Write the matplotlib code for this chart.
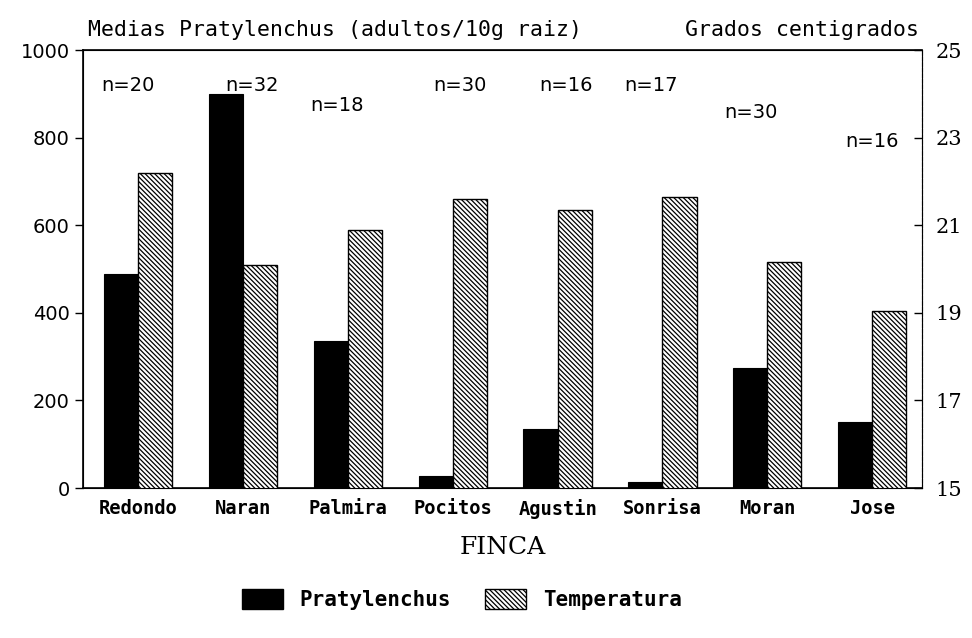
import matplotlib
matplotlib.use("Agg")
import matplotlib.pyplot as plt
from matplotlib.patches import Patch
import numpy as np

fincas = ["Redondo", "Naran", "Palmira", "Pocitos", "Agustin", "Sonrisa", "Moran", "Jose"]
pratylenchus = [489, 900, 336, 27, 135, 13, 274, 151]
temperatura = [22.2, 20.1, 20.9, 21.6, 21.35, 21.65, 20.15, 19.05]
n_labels = ["n=20", "n=32", "n=18", "n=30", "n=16", "n=17", "n=30", "n=16"]
n_x = [-0.1, 1.09, 1.90, 3.07, 4.08, 4.89, 5.84, 7.0]
n_y = [920, 920, 874, 920, 920, 920, 858, 790]
left_ticks = [0, 200, 400, 600, 800, 1000]
right_ticks = [15, 17, 19, 21, 23, 25]

plt.rcParams['hatch.linewidth'] = 0.9
fig = plt.figure(figsize=(9.72, 6.38), dpi=100)
ax = fig.add_axes([0.0854, 0.2351, 0.8632, 0.6865])
ax2 = ax.twinx()

HATCH = "\\\\\\\\\\\\\\"
x = np.arange(len(fincas))
w = 0.325
ax.bar(x - w / 2, pratylenchus, width=w, color="black", edgecolor="black", linewidth=0.8)
ax2.bar(x + w / 2, temperatura, width=w, bottom=0, color="white", edgecolor="black",
        hatch=HATCH, linewidth=1.0)

ax.set_xlim(-0.525, len(fincas) - 0.525)
ax.set_ylim(0, 1000)
ax2.set_ylim(15, 25)

ax.set_yticks(left_ticks)
ax.set_yticklabels([str(v) for v in left_ticks], fontsize=14, family="DejaVu Sans")
ax2.set_yticks(right_ticks)
ax2.set_yticklabels([str(v) for v in right_ticks], fontsize=15, family="DejaVu Serif")
ax.tick_params(axis="y", direction="out", length=6, width=1)
ax2.tick_params(axis="y", direction="in", length=6, width=1, pad=10)
ax.set_xticks(x)
ax.set_xticklabels(fincas, fontsize=13.5, family="DejaVu Sans Mono", fontweight="bold")
ax.tick_params(axis="x", length=0, pad=8)

for lbl, xx, yy in zip(n_labels, n_x, n_y):
    ax.text(xx, yy, lbl, fontsize=14, family="DejaVu Sans", ha="center", va="center")

ax2.spines["right"].set_linestyle((0, (3, 2)))
ax2.spines["right"].set_linewidth(0.8)
for s in ["left", "top", "bottom"]:
    ax.spines[s].set_linewidth(1.2)

fig.text(0.091, 0.953, "Medias Pratylenchus (adultos/10g raiz)", fontsize=15.5,
         family="DejaVu Sans Mono", ha="left", va="center")
fig.text(0.945, 0.953, "Grados centigrados", fontsize=15.5,
         family="DejaVu Sans Mono", ha="right", va="center")
ax.set_xlabel("FINCA", fontsize=18, family="DejaVu Serif", labelpad=12)

handles = [Patch(facecolor="black", edgecolor="black", label="Pratylenchus"),
           Patch(facecolor="white", edgecolor="black", hatch=HATCH, label="Temperatura")]
fig.legend(handles=handles, loc="center", bbox_to_anchor=(0.475, 0.06), ncol=2, frameon=False,
           prop=dict(family="DejaVu Sans Mono", size=15, weight="bold"), handlelength=2.0,
           handleheight=1.1, handletextpad=0.8, columnspacing=1.6)

fig.savefig("out.png", dpi=100, facecolor="white")
